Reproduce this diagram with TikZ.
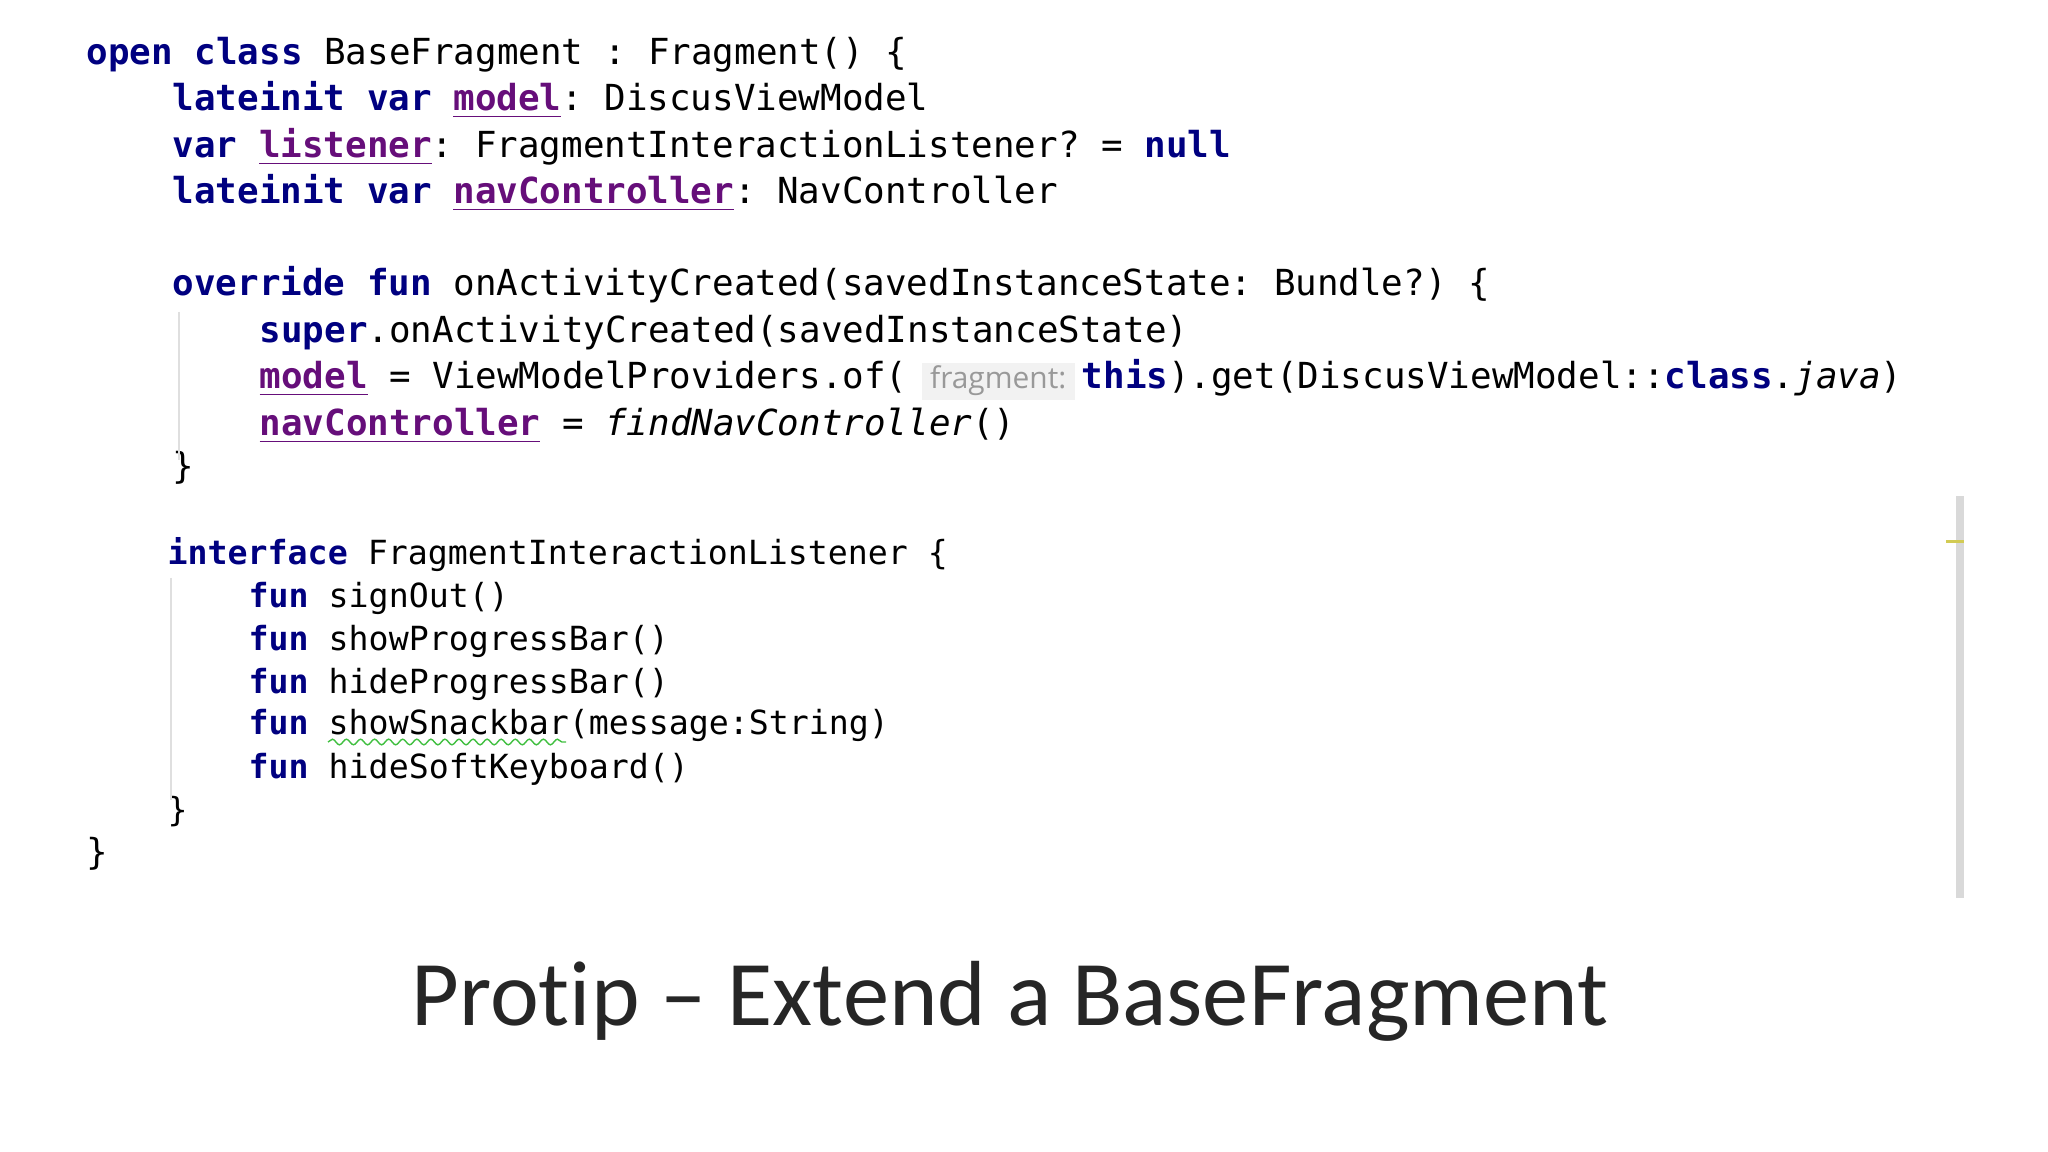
\documentclass[tikz,border=0pt]{standalone}
\usepackage{fontspec}
\setmainfont{Carlito}[Ligatures=NoCommon]
\setmonofont{DejaVu Sans Mono}
\setsansfont{Open Sans}
\usetikzlibrary{decorations.pathmorphing}
\definecolor{kw}{HTML}{000080}
\definecolor{prop}{HTML}{660E7A}
\newcommand{\kwd}[1]{\textcolor{kw}{\bfseries #1}}
\newcommand{\prp}[1]{\textcolor{prop}{\bfseries\underline{#1}}}
\newcommand{\hintbox}[1]{{\setlength{\fboxsep}{1pt}\colorbox{gray!10}{\sffamily\color{gray!80}\fontsize{8.5}{10}\selectfont\,#1\,}}}
\begin{document}
\begin{tikzpicture}[x=0.01cm,y=-0.01cm,
  code/.style={anchor=base west,inner sep=0pt,font=\ttfamily\fontsize{10.2}{12}\selectfont},
  codeb/.style={anchor=base west,inner sep=0pt,font=\ttfamily\fontsize{9.45}{12}\selectfont},
  guide/.style={draw=gray!25,line width=0.6pt}]
\useasboundingbox (0,0) rectangle (2048,1152);
\node[code] (l1) at (86,65) {\kwd{open class} BaseFragment : Fragment() \{};
\node[code] (l2) at (172,111) {\kwd{lateinit var} \prp{model}: DiscusViewModel};
\node[code] (l3) at (172,158) {\kwd{var} \prp{listener}: FragmentInteractionListener? = \kwd{null}};
\node[code] (l4) at (172,204) {\kwd{lateinit var} \prp{navController}: NavController};
\node[code] (l5) at (172,296) {\kwd{override fun} onActivityCreated(savedInstanceState: Bundle?) \{};
\node[code] (l6) at (259,343) {\kwd{super}.onActivityCreated(savedInstanceState)};
\node[code] (l7) at (259,389) {\prp{model} = ViewModelProviders.of(\hspace{4pt}\hintbox{fragment:}\hspace{2pt}\kwd{this}).get(DiscusViewModel::\kwd{class}.\textit{java})};
\node[code] (l8) at (259,436) {\prp{navController} = \textit{findNavController}()};
\node[code] (l9) at (172,479) {\}};
\node[codeb] (i1) at (167,564) {\kwd{interface} FragmentInteractionListener \{};
\node[codeb] (i2) at (248,607) {\kwd{fun} signOut()};
\node[codeb] (i3) at (248,650) {\kwd{fun} showProgressBar()};
\node[codeb] (i4) at (248,693) {\kwd{fun} hideProgressBar()};
\node[codeb] (i5) at (248,735) {\kwd{fun} showSnackbar(message:String)};
\node[codeb] (i6) at (248,778) {\kwd{fun} hideSoftKeyboard()};
\node[codeb] (i7) at (167,821) {\}};
\node[code] (l10) at (86,864) {\}};
\draw[guide] (179,312) -- (179,460);
\draw[guide] (171,578) -- (171,800);
\draw[green!50!gray,decorate,decoration={snake,amplitude=0.8pt,segment length=4pt}] (328,742) -- (566,742);
\fill[gray!30] (1956,496) rectangle (1964,898);
\fill[yellow!60!gray] (1946,540) rectangle (1964,543);
\node[anchor=base,inner sep=0pt,font=\fontsize{26.3}{30}\selectfont,text=black!85] (title) at (1010,1025) {Protip – Extend a BaseFragment};
\end{tikzpicture}
\end{document}
